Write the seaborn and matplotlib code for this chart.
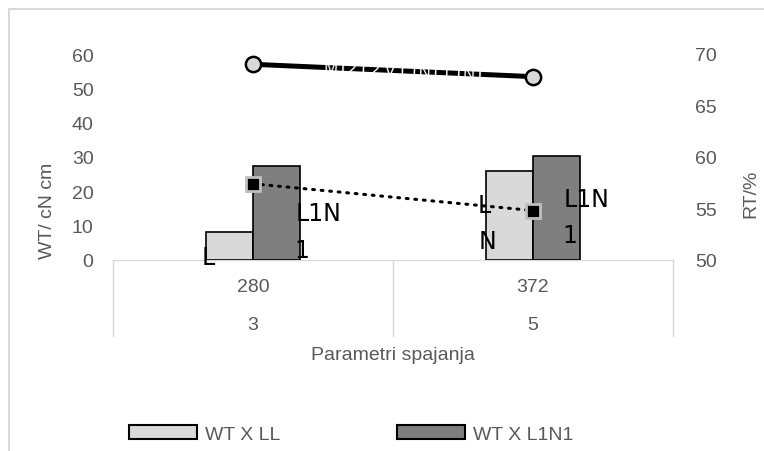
import pandas as pd
import seaborn as sns
import matplotlib.pyplot as plt
from matplotlib.patches import Patch
from matplotlib.lines import Line2D

categories = ['280', '372']
sub_labels = ['3', '5']
series_names = ['WT X LL', 'WT X L1N1']
wt_ll = [8.2, 26.0]
wt_l1n1 = [27.3, 30.3]
rt_solid = [69.0, 67.8]
rt_dotted = [57.4, 54.8]
bar_colors = ['#d9d9d9', '#7f7f7f']
# leftover data labels as they appear in the picture: (x, y, text)
label_pos = [(-0.16, 0.8, 'L'), (0.233, 13.7, 'L1N'), (0.176, 2.9, '1'),
             (0.825, 16.0, 'L'), (0.836, 5.5, 'N'), (1.193, 17.8, 'L1N'), (1.132, 7.3, '1')]

df = pd.DataFrame({
    'cat': categories * 2,
    'series': [series_names[0]] * 2 + [series_names[1]] * 2,
    'wt': wt_ll + wt_l1n1,
})

sns.set_style('white')
plt.rcParams['font.family'] = ['Liberation Sans', 'DejaVu Sans']
grey = '#595959'
line_grey = '#d9d9d9'

W, H = 764, 452
def px(x):
    return x / W
def py(y):
    return 1 - y / H

fig = plt.figure(figsize=(7.64, 4.52), dpi=100)
ax = fig.add_axes([px(113), py(261), px(673) - px(113), py(55) - py(261)])

sns.barplot(data=df, x='cat', y='wt', hue='series', palette=bar_colors, width=0.336,
            edgecolor='black', linewidth=1.2, legend=False, ax=ax, zorder=2)
ax.set_xlim(-0.5, 1.5)
ax.set_ylim(0, 60)
ax.set_yticks(range(0, 61, 10))
ax.set_xlabel('')
ax.set_ylabel('')
ax.tick_params(axis='y', length=0, pad=14, labelsize=14, labelcolor=grey)
ax.tick_params(axis='x', length=0, pad=13, labelsize=14, labelcolor=grey)
for s in ax.spines.values():
    s.set_visible(False)

# second level of category labels
for i, lab in enumerate(sub_labels):
    ax.text(i, -0.311, lab, transform=ax.get_xaxis_transform(), ha='center', va='center',
            fontsize=14, color=grey)

ax2 = ax.twinx()
sns.lineplot(x=[0, 1], y=rt_solid, ax=ax2, color='black', linewidth=3.6, marker='o',
             markersize=11, markerfacecolor='#d9d9d9', markeredgecolor='black',
             markeredgewidth=1.8, zorder=3)
sns.lineplot(x=[0, 1], y=rt_dotted, ax=ax2, color='black', linewidth=2.2,
             linestyle=(0, (0.6, 2.2)), dash_capstyle='round', marker='s', markersize=10,
             markerfacecolor='black', markeredgecolor='#bfbfbf', markeredgewidth=2, zorder=3)
ax2.set_xlim(-0.5, 1.5)
ax2.set_ylim(50, 70)
ax2.set_yticks(range(50, 71, 5))
ax2.set_ylabel('')
ax2.tick_params(axis='y', length=0, pad=16, labelsize=14, labelcolor=grey)
for s in ax2.spines.values():
    s.set_visible(False)

# white label text sitting on the solid line
ax2.text(0.54, 68.35, 'M12 L2 V L1N1 L1N1', ha='center', va='center', fontsize=12,
         color='white', rotation=-2.5, zorder=5)

for x, y, t in label_pos:
    ax.text(x, y, t, ha='center', va='center', fontsize=17, color='black', zorder=6,
            family=['DejaVu Sans'])

# category table lines
fig.add_artist(Line2D([px(113), px(673)], [py(261), py(261)], color=line_grey, lw=1, zorder=0))
for xx in [113, 393, 673]:
    fig.add_artist(Line2D([px(xx), px(xx)], [py(261), py(337)], color=line_grey, lw=1, zorder=0))

# chart border (cropped)
fig.add_artist(Line2D([px(9), px(9)], [py(10), 0], color=line_grey, lw=1.5))
fig.add_artist(Line2D([px(9), 1], [py(10), py(10)], color=line_grey, lw=1.5))

fig.text(px(393), py(355), 'Parametri spajanja', ha='center', va='center', fontsize=14, color=grey)
fig.text(px(47), py(211), 'WT/ cN cm', ha='center', va='center', rotation=90, fontsize=14, color=grey)
fig.text(px(751), py(194), 'RT/%', ha='center', va='center', rotation=90, fontsize=14, color=grey)

handles = [Patch(facecolor=c, edgecolor='black', linewidth=1.5) for c in bar_colors]
leg = fig.legend(handles, series_names, loc='center', bbox_to_anchor=(px(351), py(435)),
                 ncol=2, frameon=False, fontsize=14, handlelength=3.5, handleheight=0.72,
                 handletextpad=0.4, columnspacing=6.0)
for t in leg.get_texts():
    t.set_color(grey)

fig.savefig('out.png', dpi=100)
